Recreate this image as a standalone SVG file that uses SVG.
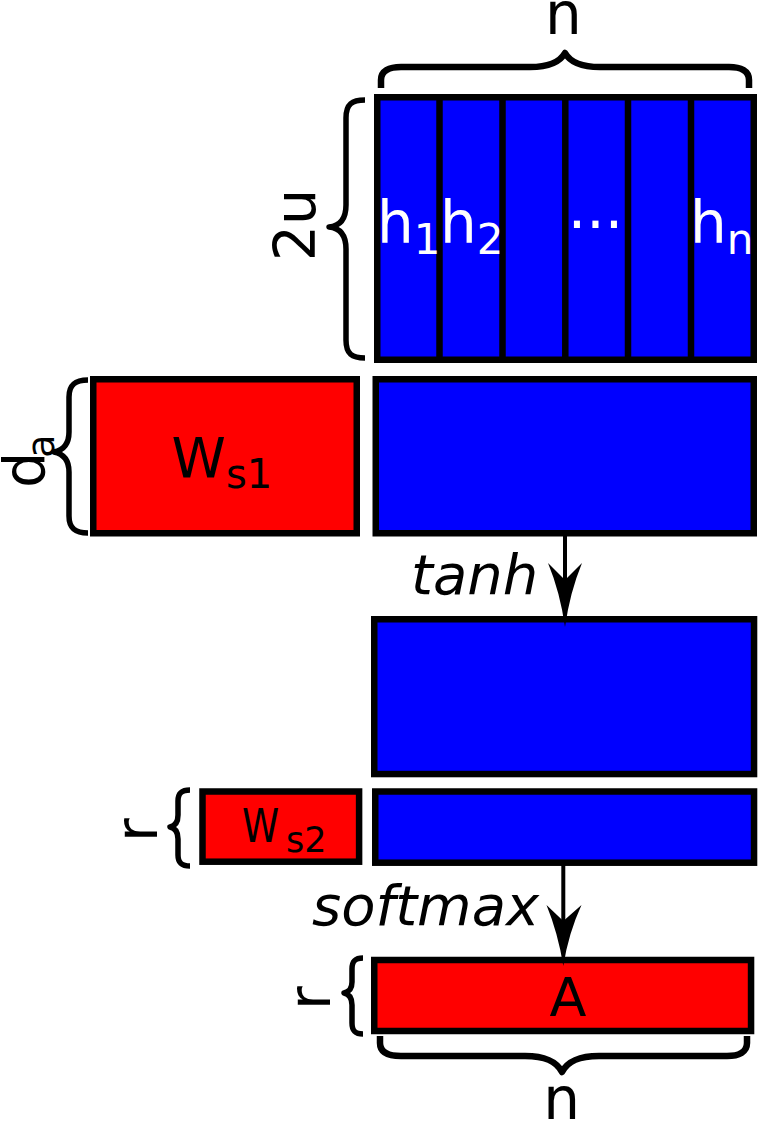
<svg xmlns="http://www.w3.org/2000/svg" width="761" height="1123" viewBox="0 0 761 1123">
<style>
.blue{fill:#0000ff;stroke:#000;stroke-width:6.5}
.red{fill:#ff0000;stroke:#000;stroke-width:6.5}
.div{stroke:#000;stroke-width:6.5;fill:none}
.brace{fill:none;stroke:#000;stroke-width:5.5;stroke-linejoin:round}
.hbrace{fill:none;stroke:#000;stroke-width:6.5;stroke-linejoin:round}
.t{font-family:"DejaVu Sans",sans-serif;fill:#000}
.w{font-family:"DejaVu Sans",sans-serif;fill:#fff}
.it{font-family:"DejaVu Sans",sans-serif;font-style:oblique;fill:#000}
.line{stroke:#000;stroke-width:4;fill:none}
.head{fill:#000;stroke:none}
</style>
<rect width="761" height="1123" fill="#fff"/>

<g id="H">
<rect class="blue" x="377.25" y="97.25" width="376.5" height="262.5"/>
<path class="div" d="M439.5,97 V360 M502.5,97 V360 M565.3,97 V360 M628,97 V360 M691,97 V360"/>
<text class="w" x="377" y="243" font-size="58">h<tspan font-size="42" dy="11">1</tspan></text>
<text class="w" x="440" y="243" font-size="58">h<tspan font-size="42" dy="11">2</tspan></text>
<text class="w" x="595.5" y="245" font-size="58" text-anchor="middle">···</text>
<text class="w" x="690" y="243" font-size="58">h<tspan font-size="42" dy="11">n</tspan></text>
</g>

<g id="brace_n_top">
<path class="hbrace" d="M381,88 L381,80 C381,71 389,67 401,67 L530,67 C550,67 560,62 565,53 C570,62 580,67 600,67 L729,67 C741,67 749,71 749,80 L749,88"/>
<text class="t" x="563.5" y="34" font-size="58" text-anchor="middle">n</text>
</g>

<g id="brace_2u">
<path class="brace" d="M365,100 C352,100 346,104 346,118 L346,205 C346,219 340,226 329,227 C340,228 346,235 346,249 L346,340 C346,354 352,358 365,358"/>
<text class="t" transform="translate(315,225) rotate(-90)" font-size="57" text-anchor="middle">2u</text>
</g>

<g id="Ws1">
<rect class="red" x="93.25" y="379.25" width="263.5" height="154"/>
<text class="t" x="171.5" y="477" font-size="55">W<tspan font-size="40" dy="11">s1</tspan></text>
</g>

<g id="brace_da">
<path class="brace" d="M88,380 C76,380 69,384 69,397 L69,432 C69,444 64,450 54,452 C64,454 69,460 69,472 L69,516 C69,529 76,533 88,533"/>
<text class="t" transform="translate(44,488) rotate(-90)" font-size="57">d<tspan font-size="38" dy="10" dx="-6">a</tspan></text>
</g>

<g id="HW">
<rect class="blue" x="375.75" y="379.25" width="378" height="154"/>
</g>

<g id="tanhOut">
<rect class="blue" x="374.25" y="619.25" width="379.8" height="154.8"/>
</g>

<g id="Ws2">
<rect class="red" x="202.5" y="791.5" width="156.6" height="70.2"/>
<text class="t" transform="translate(242,841.7) scale(0.8,1)" font-size="47">W</text>
<text class="t" x="286" y="851.7" font-size="35">s2</text>
</g>

<g id="brace_r1">
<path class="brace" d="M190,790 C182,790 178,793 178,801 L178,815 C178,822 175,826 170,827 C175,828 178,832 178,839 L178,855 C178,863 182,866 190,866"/>
<text class="t" transform="translate(157,830) rotate(-90)" font-size="58" text-anchor="middle">r</text>
</g>

<g id="prod2">
<rect class="blue" x="375.25" y="791.5" width="378.8" height="71.2"/>
</g>

<g id="A">
<rect class="red" x="374.25" y="960" width="376.8" height="71"/>
<text class="t" x="568" y="1016" font-size="54" text-anchor="middle">A</text>
</g>

<g id="brace_r2">
<path class="brace" d="M363,958 C355,958 352,961 352,969 L352,982 C352,989 349,992 344,993 C349,994 352,998 352,1005 L352,1023 C352,1031 355,1034 363,1034"/>
<text class="t" transform="translate(330,998) rotate(-90)" font-size="58" text-anchor="middle">r</text>
</g>

<g id="brace_n_bottom">
<path class="hbrace" d="M380,1036 L380,1043 C380,1052 388,1056 401,1056 L525,1056 C545,1056 556,1061 562,1072 C568,1061 579,1056 599,1056 L727,1056 C739,1056 747,1052 747,1043 L747,1036"/>
<text class="t" x="561.7" y="1119" font-size="58" text-anchor="middle">n</text>
</g>

<g id="connectors">
<path class="line" d="M565,536 V580"/>
<path class="head" d="M548,563 L565,580 L582,563 Q570,592 565,627 Q560,592 548,563 Z"/>
<text class="it" x="411" y="594" font-size="56">tanh</text>
<path class="line" d="M563.3,865 V921"/>
<path class="head" d="M546.5,905 L563.3,921 L581.5,905 Q568.5,933 563.3,966 Q558,933 546.5,905 Z"/>
<text class="it" x="312" y="925" font-size="56">softmax</text>
</g>
</svg>
